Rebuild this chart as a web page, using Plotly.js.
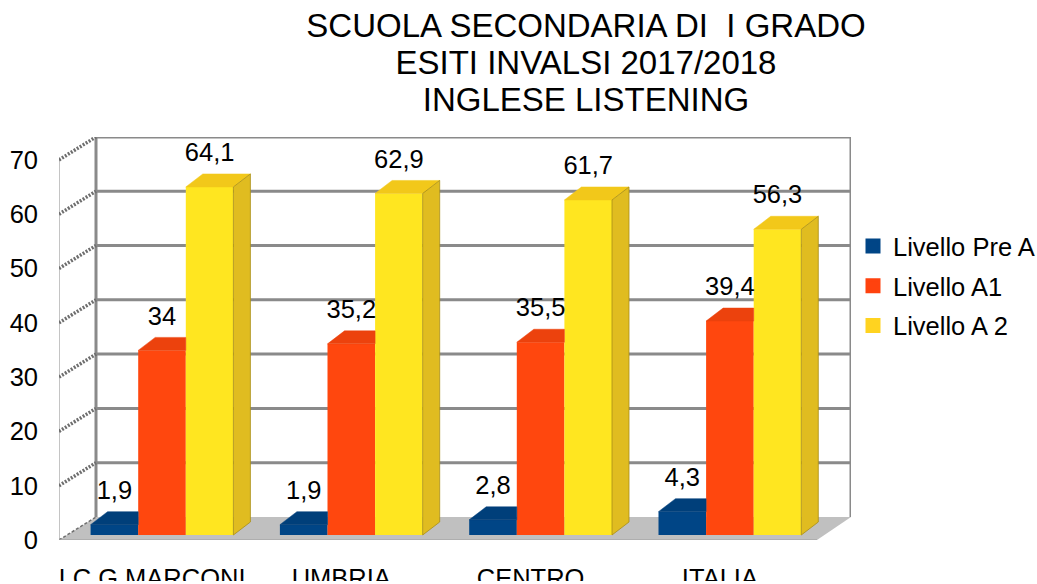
<!DOCTYPE html>
<html><head><meta charset="utf-8">
<script src="https://cdn.plot.ly/plotly-3.0.1.min.js"></script>
<style>html,body{margin:0;padding:0;background:#fff;overflow:hidden}#clip{width:1037px;height:581px;overflow:hidden}#g{width:1037px;height:584px}</style>
</head><body><div id="clip"><div id="g"></div></div>
<script>
const categories = ["I.C.G MARCONI","UMBRIA","CENTRO","ITALIA"];
const preA = [1.9,1.9,2.8,4.3];
const a1 = [34,35.2,35.5,39.4];
const a2 = [64.1,62.9,61.7,56.3];
const seriesNames = ["Livello Pre A","Livello A1","Livello A 2"];
const gridValues = [10,20,30,40,50,60,70];
const yTicks = [0,10,20,30,40,50,60,70];
const titleLines = ["SCUOLA SECONDARIA DI \u00a0I GRADO","ESITI INVALSI 2017/2018","INGLESE LISTENING"];

// pixel scale of the picture
const L=59,R=851,T=137,B=540, PY=5.43, PX=189.3, X0=152;
const ux=p=>p/PX, uy=p=>p/PY;
const xr=[(L-X0)/PX,(R-X0)/PX];
const yr=[0,(B-T)/PY];
const baseShift=uy(5);
const wallDX=ux(37), wallDY=uy(23);
const floorRight=ux(817-59);
const barW=ux(47.6), depthX=ux(17), depthY=uy(13);
const groupShift=ux(10);
const startOff=[0,1,2].map(i=>groupShift+(i-1.5)*barW);
const all=[preA,a1,a2];
const front=["#004586","#FF470E","#FFE620"];
const topC=["#003f7a","#EC420D","#F2C81A"];
const sideC=["#003a70","#DC3C0C","#E0BC20"];
const legendC=["#004586","#FF420E","#FFD320"];
const FONT='Liberation Sans', FS=25.5;
const idx=categories.map((_,i)=>i);
const traces=[];

// floor
const xl=xr[0];
traces.push({type:'scatter',mode:'lines',x:[xl,xl+wallDX,xr[1],xl+floorRight,xl],y:[0,wallDY,wallDY,0,0],fill:'toself',fillcolor:'#C0C0C0',line:{width:0},hoverinfo:'skip',showlegend:false});
// back wall grid
let gx=[],gy=[];
gridValues.forEach(v=>{gx.push(xl+wallDX,xr[1],null);gy.push(v+wallDY,v+wallDY,null);});
traces.push({type:'scatter',mode:'lines',x:gx,y:gy,line:{color:'#8A8A8A',width:3},hoverinfo:'skip',showlegend:false});
// back wall verticals
traces.push({type:'scatter',mode:'lines',x:[xl+wallDX,xl+wallDX,null,xr[1],xr[1]],y:[wallDY,70+wallDY,null,wallDY,70+wallDY],line:{color:'#8A8A8A',width:3},hoverinfo:'skip',showlegend:false});
// left wall front edge
traces.push({type:'scatter',mode:'lines',x:[xl,xl],y:[0,70],line:{color:'#8A8A8A',width:1},hoverinfo:'skip',showlegend:false});
// left wall diagonals
let dx=[],dy=[];
gridValues.forEach(v=>{dx.push(xl,xl+wallDX,null);dy.push(v,v+wallDY,null);});
traces.push({type:'scatter',mode:'lines',x:dx,y:dy,line:{color:'#6E6E6E',width:3.5,dash:'2px,1.5px'},hoverinfo:'skip',showlegend:false});
traces.push({type:'scatter',mode:'lines',x:[xl,xl+wallDX],y:[0,wallDY],line:{color:'#6E6E6E',width:1.5,dash:'3px,2px'},hoverinfo:'skip',showlegend:false});
// front floor edge
traces.push({type:'scatter',mode:'lines',x:[xl,xl+floorRight],y:[0,0],line:{color:'#A8A8A8',width:1.5},hoverinfo:'skip',showlegend:false});

// bars
all.forEach((vals,s)=>{
  traces.push({type:'bar',x:idx,y:vals,yaxis:'y2',width:barW,offset:startOff[s],name:seriesNames[s],showlegend:false,
    marker:{color:front[s],line:{width:0}},hovertemplate:seriesNames[s]+': %{y}<extra></extra>'});
});
// top and side faces
all.forEach((vals,s)=>{
  let tx=[],ty=[],sx=[],sy=[];
  vals.forEach((v,i)=>{
    const a=i+startOff[s], b=a+barW;
    const last=s===2;
    const right=last?b+depthX:b;
    tx.push(a,a+depthX,right,b,a,null);
    ty.push(v,v+depthY,v+depthY,v,v,null);
    if(last){sx.push(b,b+depthX,b+depthX,b,b,null);sy.push(v,v+depthY,depthY,0,v,null);}
  });
  traces.push({type:'scatter',mode:'lines',yaxis:'y2',x:tx,y:ty,fill:'toself',fillcolor:topC[s],line:{color:topC[s],width:0.5},hoverinfo:'skip',showlegend:false});
  if(sx.length) traces.push({type:'scatter',mode:'lines',yaxis:'y2',x:sx,y:sy,fill:'toself',fillcolor:sideC[s],line:{color:'#A88E18',width:0.8},hoverinfo:'skip',showlegend:false});
});
// value labels
const labelLift=depthY+uy(6.5);
all.forEach((vals,s)=>{
  traces.push({type:'scatter',mode:'text',yaxis:'y2',x:idx.map(i=>i+startOff[s]+barW/2),y:vals.map(v=>v+labelLift),
    text:vals.map(v=>String(v).replace('.',',')),textposition:'top center',cliponaxis:false,
    textfont:{family:FONT,size:FS,color:'#000'},hoverinfo:'skip',showlegend:false});
});
// legend entries
seriesNames.forEach((n,s)=>{
  traces.push({type:'bar',x:[null],y:[null],name:n,legendgroup:'g'+s,showlegend:true,hoverinfo:'skip',
    marker:{color:legendC[s],line:{color:legendC[s],width:3}}});
});

const layout={
  width:1037,height:584,autosize:false,
  margin:{l:L,r:1037-R,t:T,b:584-B,pad:0},
  paper_bgcolor:'#fff',plot_bgcolor:'rgba(0,0,0,0)',
  font:{family:FONT,color:'#000',size:FS},
  barmode:'overlay',
  title:{text:titleLines.map(t=>'<span style="font-size:33px">'+t+'</span>').join('<br>'),
    font:{family:FONT,size:28.5,color:'#000'},x:586/1037,xanchor:'center',xref:'container',y:1-37/584,yanchor:'top',yref:'container'},
  xaxis:{range:xr,tickmode:'array',tickvals:idx,ticktext:categories,showgrid:false,zeroline:false,showline:false,ticks:'',
    ticklabelstandoff:20,tickfont:{family:FONT,size:FS,color:'#000'}},
  yaxis:{range:yr,tickmode:'array',tickvals:yTicks,showgrid:false,zeroline:false,showline:false,ticks:'',
    ticklabelstandoff:20,tickfont:{family:FONT,size:FS,color:'#000'}},
  yaxis2:{overlaying:'y',range:[yr[0]-baseShift,yr[1]-baseShift],visible:false},
  legend:{xref:'container',yref:'container',x:853/1037,xanchor:'left',y:1-223/584,yanchor:'top',
    font:{family:FONT,size:FS,color:'#000'},tracegroupgap:3.5,bgcolor:'rgba(0,0,0,0)',borderwidth:0,traceorder:'grouped'},
  showlegend:true
};
Plotly.newPlot('g',traces,layout,{displayModeBar:false,responsive:false});
</script></body></html>
